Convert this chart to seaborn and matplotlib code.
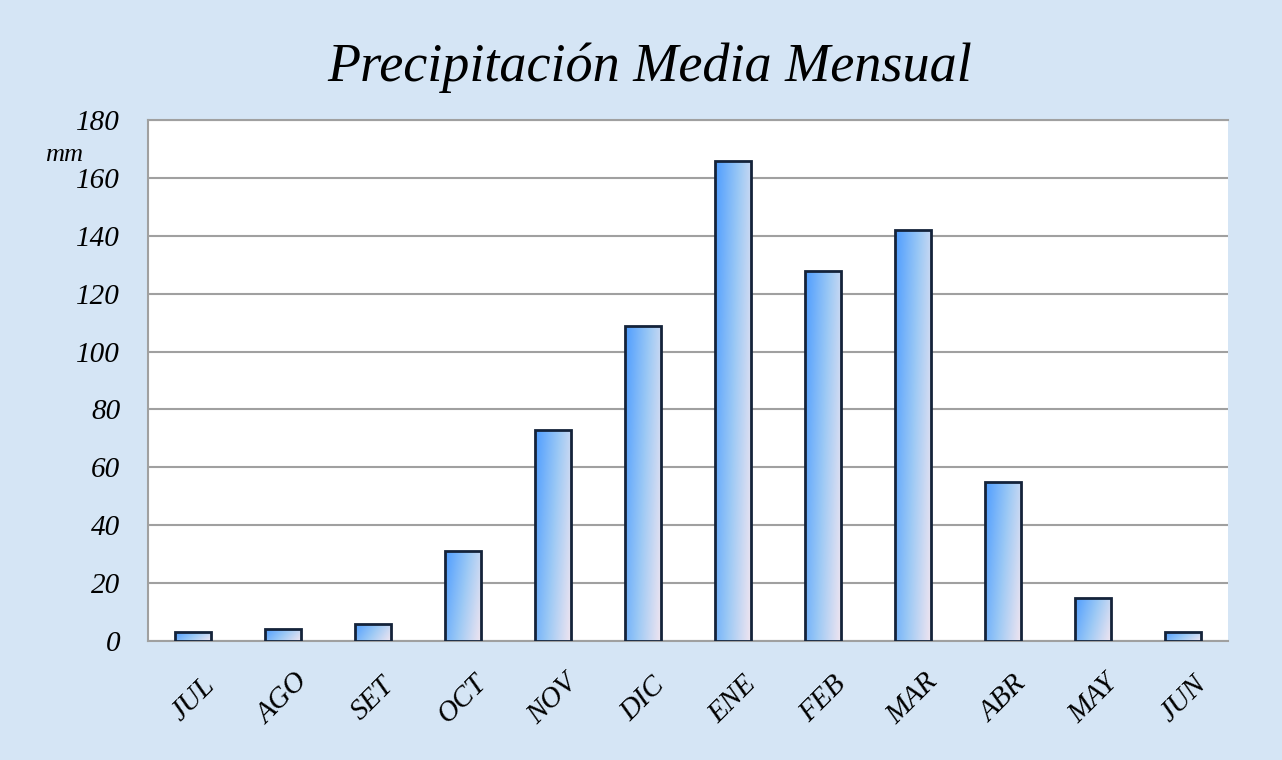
import numpy as np
import pandas as pd
import matplotlib.pyplot as plt
import seaborn as sns
from matplotlib.colors import LinearSegmentedColormap

months = ["JUL", "AGO", "SET", "OCT", "NOV", "DIC", "ENE", "FEB", "MAR", "ABR", "MAY", "JUN"]
precip = [3, 4, 6, 31, 73, 109, 166, 128, 142, 55, 15, 3]
y_ticks = [0, 20, 40, 60, 80, 100, 120, 140, 160, 180]

data = pd.DataFrame({"mes": months, "mm": precip})

sns.set_style("white")
plt.rcParams["font.family"] = ["Liberation Serif", "DejaVu Serif"]
plt.rcParams["text.color"] = "black"
plt.rcParams["xtick.color"] = "black"
plt.rcParams["ytick.color"] = "black"

fig = plt.figure(figsize=(12.82, 7.6), dpi=100, facecolor="#d5e5f5")
ax = fig.add_axes([148 / 1282, 1 - 641 / 760, 1080 / 1282, 521 / 760])
ax.set_facecolor("white")

sns.barplot(data=data, x="mes", y="mm", ax=ax, width=0.41,
            color="#7ab8ff", edgecolor="#14233a", linewidth=2, zorder=3)

# gradient fill inside each bar
cmap = LinearSegmentedColormap.from_list("barra", ["#4f9dff", "#9cc9f5", "#f3e6f0"])
gx, gy = np.meshgrid(np.linspace(0, 1, 64), np.linspace(0, 1, 64))
grad = 0.75 * gx + 0.25 * gy
for bar in ax.patches:
    x0, y0 = bar.get_x(), bar.get_y()
    w, h = bar.get_width(), bar.get_height()
    im = ax.imshow(grad, cmap=cmap, extent=[x0, x0 + w, y0, y0 + h],
                   origin="upper", aspect="auto", zorder=3.5, vmin=0, vmax=1)
    im.set_clip_path(bar)
    bar.set_facecolor("none")
    bar.set_zorder(4)

ax.set_xlim(-0.5, len(months) - 0.5)
ax.set_ylim(0, 180)
ax.set_yticks(y_ticks)
ax.yaxis.grid(True, color="#a0a0a0", linewidth=1.5, zorder=0)
ax.set_axisbelow(True)
ax.spines["right"].set_visible(False)
for s in ["left", "top", "bottom"]:
    ax.spines[s].set_color("#a0a0a0")
    ax.spines[s].set_linewidth(1.5)

ax.set_xlabel("")
ax.set_ylabel("")
ax.tick_params(axis="y", labelsize=21, pad=20, length=0)
ax.tick_params(axis="x", labelsize=21, pad=42, length=0)
for lab in ax.get_yticklabels():
    lab.set_fontstyle("italic")
for lab in ax.get_xticklabels():
    lab.set_fontstyle("italic")
    lab.set_rotation(45)
    lab.set_ha("center")
    lab.set_va("center")

fig.text(45 / 1282, 1 - 166 / 760, "mm", fontsize=19, style="italic", ha="left", va="bottom")
fig.text(650 / 1282, 1 - 68 / 760, "Precipitación Media Mensual", fontsize=39,
         style="italic", ha="center", va="center")

fig.savefig("out.png", dpi=100, facecolor=fig.get_facecolor())
